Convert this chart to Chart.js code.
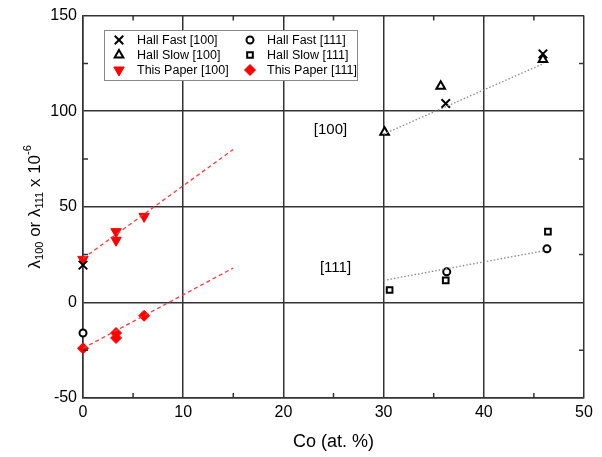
<!DOCTYPE html>
<html>
<head>
<meta charset="utf-8">
<script src="https://cdn.jsdelivr.net/npm/chart.js@4.4.0/dist/chart.umd.min.js"></script>
<style>
  html, body { margin: 0; padding: 0; background: #fff; }
  #wrap { width: 602px; height: 457px; position: relative; }
</style>
</head>
<body>
<div id="wrap"><canvas id="magChart"></canvas></div>
<script>
// values, [Co at.%, lambda x 1e-6]
const hallFast100 = [[0, 19.5], [36.2, 104], [45.9, 130]];
const hallSlow100 = [[30.1, 89], [35.7, 113], [45.9, 127]];
const thisPaper100 = [[0, 22.5], [3.3, 37], [3.3, 32.5], [6.1, 45]];
const hallFast111 = [[0, -16], [36.3, 16], [46.3, 28]];
const hallSlow111 = [[30.6, 6.5], [36.2, 11.5], [46.4, 37]];
const thisPaper111 = [[0, -24], [3.3, -16], [3.3, -18.6], [6.1, -7]];
const fit100 = [[0, 23], [15, 80]];
const fit111 = [[0, -24], [15, 18]];
const hallFit100 = [[30, 88], [46, 125]];
const hallFit111 = [[30, 11.5], [46, 27]];

const xTicks = [0, 10, 20, 30, 40, 50];
const yTicks = [-50, 0, 50, 100, 150];
const xMinor = [5, 15, 25, 35, 45];
const yMinor = [-25, 25, 75, 125];
const annotations = [["[100]", 24.7, 90], ["[111]", 25.2, 18]];

const FONT = "'Liberation Sans', Arial, sans-serif";
const toPts = (arr) => arr.map(([x, y]) => ({ x, y }));

const marker = (label, data, style, opts = {}) => ({
    label,
    data: toPts(data),
    pointStyle: style,
    pointRadius: 5,
    pointBorderWidth: 2,
    pointBorderColor: "#000",
    pointBackgroundColor: "#fff",
    showLine: false,
    clip: false,
    ...opts
});

const fitLine = (data, color, dash) => ({
    label: "",
    data: toPts(data),
    showLine: true,
    borderColor: color,
    borderWidth: 1.3,
    borderDash: dash,
    pointRadius: 0,
    fill: false
});

const datasets = [
    fitLine(fit100, "#ff3b3b", [4, 3]),
    fitLine(fit111, "#ff3b3b", [4, 3]),
    fitLine(hallFit100, "#888", [1.5, 2]),
    fitLine(hallFit111, "#888", [1.5, 2]),
    marker("Hall Fast [100]", hallFast100, "crossRot", { pointRadius: 6 }),
    marker("Hall Slow [100]", hallSlow100, "triangle", { pointRadius: 5 }),
    marker("This Paper [100]", thisPaper100, "triangle", {
        pointRotation: 180, pointRadius: 6, pointBorderWidth: 1,
        pointBorderColor: "#f00", pointBackgroundColor: "#f00"
    }),
    marker("Hall Fast [111]", hallFast111, "circle", { pointRadius: 3.5 }),
    marker("Hall Slow [111]", hallSlow111, "rect", { pointRadius: 4 }),
    marker("This Paper [111]", thisPaper111, "rectRot", {
        pointRadius: 5.5, pointBorderWidth: 1,
        pointBorderColor: "#f00", pointBackgroundColor: "#f00"
    })
];

const legendOrder = [
    ["Hall Fast [100]", "Hall Fast [111]"],
    ["Hall Slow [100]", "Hall Slow [111]"],
    ["This Paper [100]", "This Paper [111]"]
];

const extrasPlugin = {
    id: "extras",
    afterDraw(chart) {
        const { ctx, chartArea: a, scales: { x, y } } = chart;
        ctx.save();

        // minor ticks pointing inward
        ctx.strokeStyle = "#333";
        ctx.lineWidth = 1.5;
        ctx.beginPath();
        xMinor.forEach((v) => {
            const px = x.getPixelForValue(v);
            ctx.moveTo(px, a.bottom); ctx.lineTo(px, a.bottom - 5);
            ctx.moveTo(px, a.top); ctx.lineTo(px, a.top + 5);
        });
        yMinor.forEach((v) => {
            const py = y.getPixelForValue(v);
            ctx.moveTo(a.left, py); ctx.lineTo(a.left + 5, py);
            ctx.moveTo(a.right, py); ctx.lineTo(a.right - 5, py);
        });
        ctx.stroke();

        // text labels in the plot
        ctx.fillStyle = "#000";
        ctx.font = "15px " + FONT;
        ctx.textAlign = "center";
        ctx.textBaseline = "middle";
        annotations.forEach(([t, vx, vy]) => {
            ctx.fillText(t, x.getPixelForValue(vx), y.getPixelForValue(vy));
        });

        // legend box
        const lx = 104, ly = 30, lw = 253, lh = 50;
        ctx.fillStyle = "#fff";
        ctx.fillRect(lx, ly, lw, lh);
        ctx.strokeStyle = "#888";
        ctx.lineWidth = 1;
        ctx.strokeRect(lx + 0.5, ly + 0.5, lw, lh);
        const rowsY = [40, 55, 70];
        const cols = [[119, 137], [250, 267]];
        ctx.font = "12.5px " + FONT;
        ctx.textAlign = "left";
        legendOrder.forEach((row, r) => {
            row.forEach((label, c) => {
                const ds = chart.data.datasets.find((d) => d.label === label);
                ctx.fillStyle = ds.pointBackgroundColor;
                ctx.strokeStyle = ds.pointBorderColor;
                ctx.lineWidth = ds.pointBorderWidth;
                Chart.helpers.drawPoint(ctx, {
                    pointStyle: ds.pointStyle,
                    rotation: ds.pointRotation || 0,
                    radius: ds.pointRadius,
                    borderWidth: ds.pointBorderWidth
                }, cols[c][0], rowsY[r]);
                ctx.fillStyle = "#000";
                ctx.fillText(label, cols[c][1], rowsY[r] + 1);
            });
        });

        // y axis title with subscripts / superscript
        const parts = [
            ["λ", 17, 0], ["100", 11, 5], [" or λ", 17, 0], ["111", 11, 5],
            [" x 10", 17, 0], ["-6", 11, -7]
        ];
        let total = 0;
        parts.forEach(([t, s]) => { ctx.font = s + "px " + FONT; total += ctx.measureText(t).width; });
        ctx.translate(35, (a.top + a.bottom) / 2);
        ctx.rotate(-Math.PI / 2);
        ctx.fillStyle = "#000";
        ctx.textBaseline = "middle";
        let cx = -total / 2;
        parts.forEach(([t, s, off]) => {
            ctx.font = s + "px " + FONT;
            ctx.fillText(t, cx, off);
            cx += ctx.measureText(t).width;
        });
        ctx.restore();
    }
};

new Chart(document.getElementById("magChart"), {
    type: "scatter",
    data: { datasets },
    options: {
        responsive: true,
        maintainAspectRatio: false,
        animation: false,
        layout: { padding: { left: 0, right: 18, top: 15, bottom: 0 } },
        plugins: { legend: { display: false }, tooltip: { enabled: false } },
        scales: {
            x: {
                type: "linear",
                min: 0, max: 50,
                afterBuildTicks: (s) => { s.ticks = xTicks.map((v) => ({ value: v })); },
                afterFit: (s) => { s.height = 59; },
                grid: { color: "#333", lineWidth: 1.5, drawTicks: false },
                border: { color: "#333", width: 1.5 },
                ticks: { color: "#000", font: { family: FONT, size: 16 }, padding: 5 },
                title: {
                    display: true, text: "Co (at. %)", color: "#000",
                    font: { family: FONT, size: 18 }, padding: { top: 8 }
                }
            },
            y: {
                type: "linear",
                min: -50, max: 150,
                afterBuildTicks: (s) => { s.ticks = yTicks.map((v) => ({ value: v })); },
                afterFit: (s) => { s.width = 83; },
                grid: { color: "#333", lineWidth: 1.5, drawTicks: false },
                border: { color: "#333", width: 1.5 },
                ticks: { color: "#000", font: { family: FONT, size: 16 }, padding: 6 }
            }
        }
    },
    plugins: [extrasPlugin]
});
</script>
</body>
</html>
